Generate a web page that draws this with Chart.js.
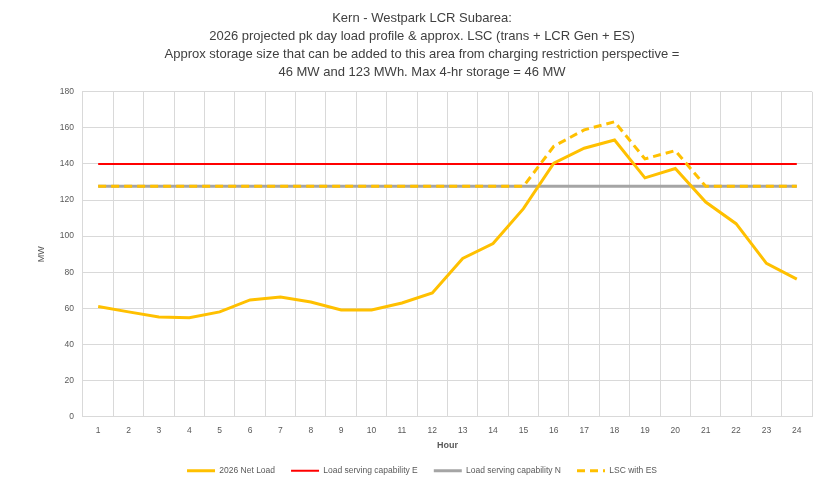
<!DOCTYPE html>
<html>
<head>
<meta charset="utf-8">
<script src="https://cdn.jsdelivr.net/npm/chart.js@4"></script>
<style>
  html, body { margin: 0; padding: 0; background: #fff; }
  #wrap { width: 819px; height: 491px; }
</style>
</head>
<body>
<div id="wrap"><canvas id="chart" width="819" height="491"></canvas></div>
<script>
const hours = ["1","2","3","4","5","6","7","8","9","10","11","12","13","14","15","16","17","18","19","20","21","22","23","24"];

const netLoad = [61, 58, 55.2, 54.7, 58, 64.6, 66.2, 63.5, 59, 59, 62.9, 68.5, 87.6, 95.9, 115.2, 140.4, 148.7, 153.3, 132.3, 137.5, 118.9, 106.9, 84.9, 76.2];
const lscE = [140, 140, 140, 140, 140, 140, 140, 140, 140, 140, 140, 140, 140, 140, 140, 140, 140, 140, 140, 140, 140, 140, 140, 140];
const lscN = [127.6, 127.6, 127.6, 127.6, 127.6, 127.6, 127.6, 127.6, 127.6, 127.6, 127.6, 127.6, 127.6, 127.6, 127.6, 127.6, 127.6, 127.6, 127.6, 127.6, 127.6, 127.6, 127.6, 127.6];
const lscWithEs = [127.6, 127.6, 127.6, 127.6, 127.6, 127.6, 127.6, 127.6, 127.6, 127.6, 127.6, 127.6, 127.6, 127.6, 127.6, 149.8, 158.9, 163.4, 142.8, 147.4, 127.6, 127.6, 127.6, 127.6];

const titleLines = [
    "Kern - Westpark LCR Subarea:",
    "2026 projected pk day load profile & approx. LSC (trans + LCR Gen + ES)",
    "Approx storage size that can be added to this area from charging restriction perspective =",
    "46 MW and 123 MWh. Max 4-hr storage = 46 MW"
];

const FONT = "'Liberation Sans', Arial, sans-serif";
const GRID = "#d9d9d9";
const TICK = "#595959";

// legend lines: take dash + width from the dataset, not from the point
function legendLabels(chart){
    const items = Chart.defaults.plugins.legend.labels.generateLabels(chart);
    items.forEach(item => {
        const ds = chart.data.datasets[item.datasetIndex];
        item.lineDash = ds.borderDash || [];
        item.lineWidth = ds.borderWidth;
        item.strokeStyle = ds.borderColor;
    });
    return items.sort((a, b) => a.datasetIndex - b.datasetIndex);
}

new Chart(document.getElementById("chart"), {

    type: "line",

    data: {
        labels: hours,
        datasets: [
            {
                label: "2026 Net Load",
                data: netLoad,
                borderColor: "#ffc000",
                backgroundColor: "#ffc000",
                borderWidth: 3,
                pointRadius: 0,
                pointStyle: "line",
                tension: 0,
                order: 1
            },
            {
                label: "Load serving capability E",
                data: lscE,
                borderColor: "#ff0000",
                backgroundColor: "#ff0000",
                borderWidth: 2,
                pointRadius: 0,
                pointStyle: "line",
                order: 2
            },
            {
                label: "Load serving capability N",
                data: lscN,
                borderColor: "#a5a5a5",
                backgroundColor: "#a5a5a5",
                borderWidth: 3,
                pointRadius: 0,
                pointStyle: "line",
                order: 3
            },
            {
                label: "LSC with ES",
                data: lscWithEs,
                borderColor: "#ffc000",
                backgroundColor: "#ffc000",
                borderWidth: 3,
                borderDash: [8, 5],
                pointRadius: 0,
                pointStyle: "line",
                order: 0
            }
        ]
    },

    options: {
        responsive: false,
        animation: false,
        layout: { padding: { left: 32, right: 7, top: 5, bottom: 6 } },
        plugins: {
            title: {
                display: true,
                text: titleLines,
                color: "#404040",
                font: { family: FONT, size: 13, weight: "normal", lineHeight: 1.4 },
                padding: { top: 4, bottom: 10 }
            },
            legend: {
                position: "bottom",
                labels: {
                    usePointStyle: true,
                    pointStyleWidth: 28,
                    color: TICK,
                    padding: 16,
                    font: { family: FONT, size: 8.5 },
                    generateLabels: legendLabels
                }
            },
            tooltip: { enabled: false }
        },
        scales: {
            x: {
                offset: true,
                grid: { color: GRID, offset: true, drawTicks: false },
                border: { color: GRID },
                ticks: { color: TICK, padding: 9, font: { family: FONT, size: 8.5 } },
                title: { display: true, text: "Hour", color: TICK, font: { family: FONT, size: 9, weight: "bold" }, padding: { top: -5, bottom: 0 } }
            },
            y: {
                min: 0,
                max: 180,
                grid: { color: GRID, drawTicks: false },
                border: { color: GRID },
                ticks: { stepSize: 20, color: TICK, padding: 9, font: { family: FONT, size: 8.5 } },
                title: { display: true, text: "MW", color: TICK, font: { family: FONT, size: 9 } }
            }
        }
    }

});
</script>
</body>
</html>
